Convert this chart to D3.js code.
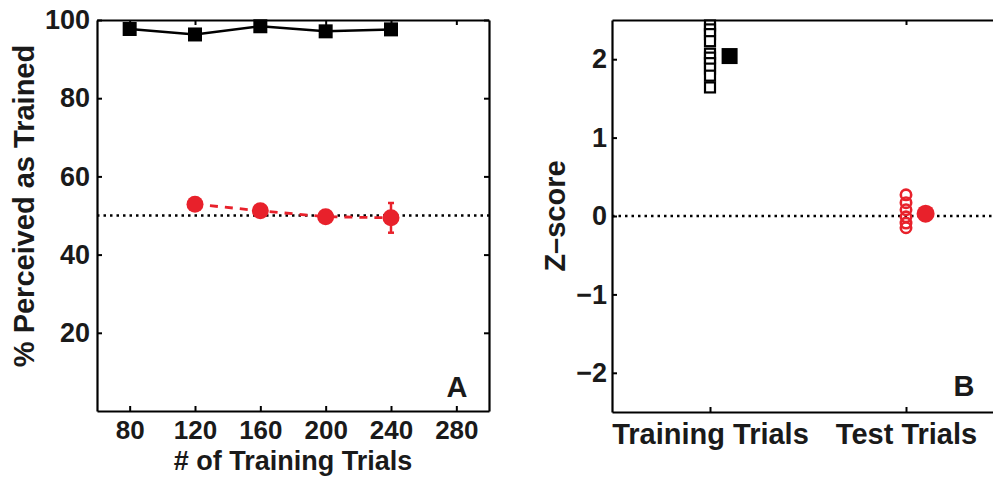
<!DOCTYPE html>
<html>
<head>
<meta charset="utf-8">
<script src="https://cdn.jsdelivr.net/npm/d3@7"></script>
<style>
  html, body { margin: 0; padding: 0; background: #fff; }
  svg { display: block; }
  text { font-family: "Liberation Sans", Arial, Helvetica, sans-serif; font-weight: bold; fill: #1a1a1a; }
</style>
</head>
<body>
<svg id="chart" width="993" height="477"></svg>
<script>
// ---- Data (Panel A) ----
const trialCounts = [80, 120, 160, 200, 240];
const trainedPct = [97.7, 96.3, 98.4, 97.1, 97.6];
const testTrialCounts = [120, 160, 200, 240];
const testPct = [52.9, 51.2, 49.7, 49.4];
const testPctErr = [1.0, 0.9, 1.5, 3.8];
const xTicksA = [80, 120, 160, 200, 240, 280];
const yTicksA = [20, 40, 60, 80, 100];
const chanceA = 50;

// ---- Data (Panel B) ----
const groupLabels = ["Training Trials", "Test Trials"];
const trainZ = [2.43, 2.38, 2.32, 2.23, 2.07, 2.02, 1.95, 1.88, 1.79, 1.64];
const trainZMean = 2.04;
const testZ = [0.27, 0.17, 0.08, -0.01, -0.09, -0.15];
const testZMean = 0.03;
const yTicksB = [-2, -1, 0, 1, 2];
const chanceB = 0;

const RED = "#e8212b";
const TICK_FS = "27px";
const LABEL_FS = "29px";
const svg = d3.select("#chart");

function styleAxis(g) {
  g.select(".domain").attr("stroke", "#000").attr("stroke-width", 2.2);
  g.selectAll(".tick line").attr("stroke", "#000").attr("stroke-width", 2);
  g.selectAll(".tick text").style("font-size", TICK_FS).attr("fill", "#1a1a1a");
}
const tickLen = 5;

// ---------- Panel A ----------
const A = { left: 97, top: 20, width: 392, height: 391 };
const xA = d3.scaleLinear().domain([60, 300]).range([A.left, A.left + A.width]);
const yA = d3.scaleLinear().domain([0, 100]).range([A.top + A.height, A.top]);
const gA = svg.append("g");

gA.append("line")
  .attr("x1", xA(60)).attr("x2", xA(300))
  .attr("y1", yA(chanceA)).attr("y2", yA(chanceA))
  .attr("stroke", "#000").attr("stroke-width", 2.5).attr("stroke-dasharray", "2.5,4");

const axBottomA = d3.axisBottom(xA).tickValues(xTicksA).tickSize(-tickLen).tickPadding(10).tickSizeOuter(0);
const axLeftA = d3.axisLeft(yA).tickValues(yTicksA).tickSize(-tickLen).tickPadding(7).tickSizeOuter(0);
const axTopA = d3.axisTop(xA).tickValues(xTicksA).tickSize(-tickLen).tickFormat("").tickSizeOuter(0);
const axRightA = d3.axisRight(yA).tickValues(yTicksA).tickSize(-tickLen).tickFormat("").tickSizeOuter(0);
const gBottomA = gA.append("g").attr("transform", `translate(0,${A.top + A.height})`).call(axBottomA).call(styleAxis);
gBottomA.selectAll(".tick text").style("font-size", "26px");
gA.append("g").attr("transform", `translate(${A.left},0)`).call(axLeftA).call(styleAxis);
gA.append("g").attr("transform", `translate(0,${A.top})`).call(axTopA).call(styleAxis);
gA.append("g").attr("transform", `translate(${A.left + A.width},0)`).call(axRightA).call(styleAxis);

const lineA = d3.line().x((d, i) => xA(trialCounts[i])).y(d => yA(d));
gA.append("path").datum(trainedPct).attr("d", lineA)
  .attr("fill", "none").attr("stroke", "#000").attr("stroke-width", 2.5);
gA.selectAll(".sq").data(trainedPct).enter().append("rect")
  .attr("x", (d, i) => xA(trialCounts[i]) - 7).attr("y", d => yA(d) - 7)
  .attr("width", 14).attr("height", 14).attr("fill", "#000");

const lineR = d3.line().x((d, i) => xA(testTrialCounts[i])).y(d => yA(d));
gA.append("path").datum(testPct).attr("d", lineR)
  .attr("fill", "none").attr("stroke", RED).attr("stroke-width", 2.8).attr("stroke-dasharray", "8,7");
const eb = gA.selectAll(".eb").data(testPct).enter().append("g");
eb.append("line")
  .attr("x1", (d, i) => xA(testTrialCounts[i])).attr("x2", (d, i) => xA(testTrialCounts[i]))
  .attr("y1", (d, i) => yA(d + testPctErr[i])).attr("y2", (d, i) => yA(d - testPctErr[i]))
  .attr("stroke", RED).attr("stroke-width", 2.5);
[1, -1].forEach(s => {
  eb.append("line")
    .attr("x1", (d, i) => xA(testTrialCounts[i]) - 3).attr("x2", (d, i) => xA(testTrialCounts[i]) + 3)
    .attr("y1", (d, i) => yA(d + s * testPctErr[i])).attr("y2", (d, i) => yA(d + s * testPctErr[i]))
    .attr("stroke", RED).attr("stroke-width", 2.5);
});
gA.selectAll(".ci").data(testPct).enter().append("circle")
  .attr("cx", (d, i) => xA(testTrialCounts[i])).attr("cy", d => yA(d))
  .attr("r", 8.5).attr("fill", RED);

gA.append("text").attr("x", xA(180)).attr("y", 470).attr("text-anchor", "middle")
  .style("font-size", "27px").text("# of Training Trials");
gA.append("text").attr("transform", `translate(34,${A.top + 186}) rotate(-90)`)
  .attr("text-anchor", "middle").style("font-size", LABEL_FS).text("% Perceived as Trained");
gA.append("text").attr("x", 457).attr("y", 397).attr("text-anchor", "middle")
  .style("font-size", "29px").text("A");

// ---------- Panel B ----------
const B = { left: 612, top: 20, width: 392, height: 392 };
const xB = d3.scaleLinear().domain([0.5, 2.5]).range([B.left, B.left + B.width]);
const yB = d3.scaleLinear().domain([-2.5, 2.5]).range([B.top + B.height, B.top]);
const gB = svg.append("g");

gB.append("line")
  .attr("x1", xB(0.5)).attr("x2", xB(2.5))
  .attr("y1", yB(chanceB)).attr("y2", yB(chanceB))
  .attr("stroke", "#000").attr("stroke-width", 2.5).attr("stroke-dasharray", "2.5,4");

const axBottomB = d3.axisBottom(xB).tickValues([1, 2]).tickFormat(d => groupLabels[d - 1])
  .tickSize(-tickLen).tickPadding(11).tickSizeOuter(0);
const axLeftB = d3.axisLeft(yB).tickValues(yTicksB).tickFormat(d => d < 0 ? "\u2212" + Math.abs(d) : d)
  .tickSize(-tickLen).tickPadding(5).tickSizeOuter(0);
const axTopB = d3.axisTop(xB).tickValues([1, 2]).tickSize(-tickLen).tickFormat("").tickSizeOuter(0);
const axRightB = d3.axisRight(yB).tickValues(yTicksB).tickSize(-tickLen).tickFormat("").tickSizeOuter(0);
const gBottomB = gB.append("g").attr("transform", `translate(0,${B.top + B.height})`).call(axBottomB).call(styleAxis);
gBottomB.selectAll(".tick text").style("font-size", LABEL_FS);
gB.append("g").attr("transform", `translate(${B.left},0)`).call(axLeftB).call(styleAxis);
gB.append("g").attr("transform", `translate(0,${B.top})`).call(axTopB).call(styleAxis);
gB.append("g").attr("transform", `translate(${B.left + B.width},0)`).call(axRightB).call(styleAxis);

gB.selectAll(".osq").data(trainZ).enter().append("rect")
  .attr("x", xB(1) - 5).attr("y", d => yB(d) - 5)
  .attr("width", 10).attr("height", 10)
  .attr("fill", "#fff").attr("stroke", "#000").attr("stroke-width", 2.2);
gB.append("rect").datum(trainZMean)
  .attr("x", xB(1.1) - 8).attr("y", d => yB(d) - 8)
  .attr("width", 16).attr("height", 16).attr("fill", "#000");

gB.selectAll(".oci").data(testZ).enter().append("circle")
  .attr("cx", xB(2)).attr("cy", d => yB(d)).attr("r", 5.2)
  .attr("fill", "none").attr("stroke", RED).attr("stroke-width", 2.6);
gB.append("circle").datum(testZMean)
  .attr("cx", xB(2.1)).attr("cy", d => yB(d)).attr("r", 9).attr("fill", RED);

gB.append("text").attr("transform", `translate(565,${yB(0)}) rotate(-90)`)
  .attr("text-anchor", "middle").style("font-size", LABEL_FS).text("Z\u2013score");
gB.append("text").attr("x", 964).attr("y", 396).attr("text-anchor", "middle")
  .style("font-size", "29px").text("B");
</script>
</body>
</html>
